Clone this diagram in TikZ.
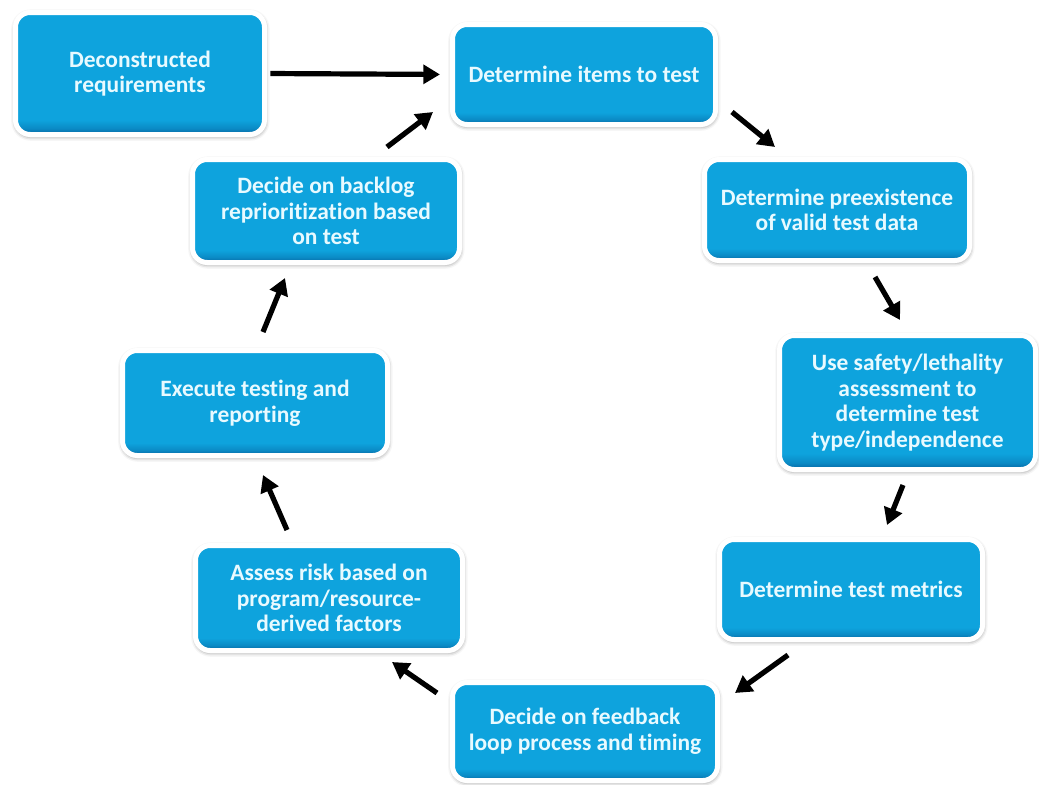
\documentclass[tikz,border=0pt]{standalone}
\usepackage{fontspec}
\setmainfont{Carlito}[Ligatures={NoCommon}]
\usetikzlibrary{arrows.meta,shadows.blur}

\definecolor{boxblue}{RGB}{14,163,221}
\definecolor{boxdark}{RGB}{6,100,160}
\definecolor{boxtext}{RGB}{232,250,255}

% flat blue fill with a darker rim along the bottom edge
\pgfdeclareverticalshading{boxshade}{100bp}{%
  color(0bp)=(boxdark); color(25bp)=(boxdark);
  color(27.5bp)=(boxblue!60!boxdark); color(31bp)=(boxblue);
  color(100bp)=(boxblue)}

\tikzset{
  stepbox/.style={rounded corners=11pt, draw=white, line width=3.75pt,
    shading=boxshade, text=boxtext, align=center, inner sep=0pt,
    font=\bfseries\fontsize{17.6}{19.2}\selectfont,
    blur shadow={shadow xshift=0.3pt, shadow yshift=-1.2pt,
      shadow blur radius=3.5pt, shadow opacity=55}},
  flow/.style={line width=3.9pt, black,
    -{Triangle[length=12.5pt,width=14pt]}}
}

\begin{document}
\begin{tikzpicture}[x=0.75pt,y=-0.75pt]
\useasboundingbox (0,0) rectangle (1039,785);

% process steps
\node[stepbox,minimum width=186.75pt,minimum height=91.5pt]  (decon)    at (140,73.5)    {Deconstructed\\requirements};
\node[stepbox,minimum width=197.25pt,minimum height=75pt]    (items)    at (584,74.5)    {Determine items to test};
\node[stepbox,minimum width=198.75pt,minimum height=75.75pt] (predata)  at (837,210)     {Determine preexistence\\of valid test data};
\node[stepbox,minimum width=192pt,minimum height=100.5pt]    (safety)   at (907.5,402.5) {Use safety/lethality\\assessment to\\determine test\\type/independence};
\node[stepbox,minimum width=197.25pt,minimum height=75pt]    (metrics)  at (851,589.5)   {Determine test metrics};
\node[stepbox,minimum width=198.75pt,minimum height=73.5pt]  (feedback) at (585,731.5)   {Decide on feedback\\loop process and timing};
\node[stepbox,minimum width=200.25pt,minimum height=78.75pt] (risk)     at (329,598)     {Assess risk based on\\program/resource-\\derived factors};
\node[stepbox,minimum width=198.75pt,minimum height=78.75pt] (execute)  at (255,403)     {Execute testing and\\reporting};
\node[stepbox,minimum width=200.25pt,minimum height=77.25pt] (backlog)  at (326,211)     {Decide on backlog\\reprioritization based\\on test};

% arrow ends in the gaps between the steps
\coordinate (itemsOut)    at (732,112);  \coordinate (predataIn)  at (775,147);
\coordinate (predataOut)  at (875,277);  \coordinate (safetyIn)   at (900,320);
\coordinate (safetyOut)   at (903,485);  \coordinate (metricsIn)  at (887,525);
\coordinate (metricsOut)  at (788,655);  \coordinate (feedbackIn) at (735,693);
\coordinate (feedbackOut) at (437,693);  \coordinate (riskIn)     at (392,662);
\coordinate (riskOut)     at (287,530);  \coordinate (executeIn)  at (263,475);
\coordinate (executeOut)  at (263,332);  \coordinate (backlogIn)  at (285,278);
\coordinate (backlogOut)  at (387,147);  \coordinate (itemsIn)    at (433,112);

% connectors
\draw[flow, shorten <=2.6pt, shorten >=7.5pt] (decon.east) -- (items.west);
\draw[flow] (itemsOut)    -- (predataIn);
\draw[flow] (predataOut)  -- (safetyIn);
\draw[flow] (safetyOut)   -- (metricsIn);
\draw[flow] (metricsOut)  -- (feedbackIn);
\draw[flow] (feedbackOut) -- (riskIn);
\draw[flow] (riskOut)     -- (executeIn);
\draw[flow] (executeOut)  -- (backlogIn);
\draw[flow] (backlogOut)  -- (itemsIn);
\end{tikzpicture}
\end{document}
